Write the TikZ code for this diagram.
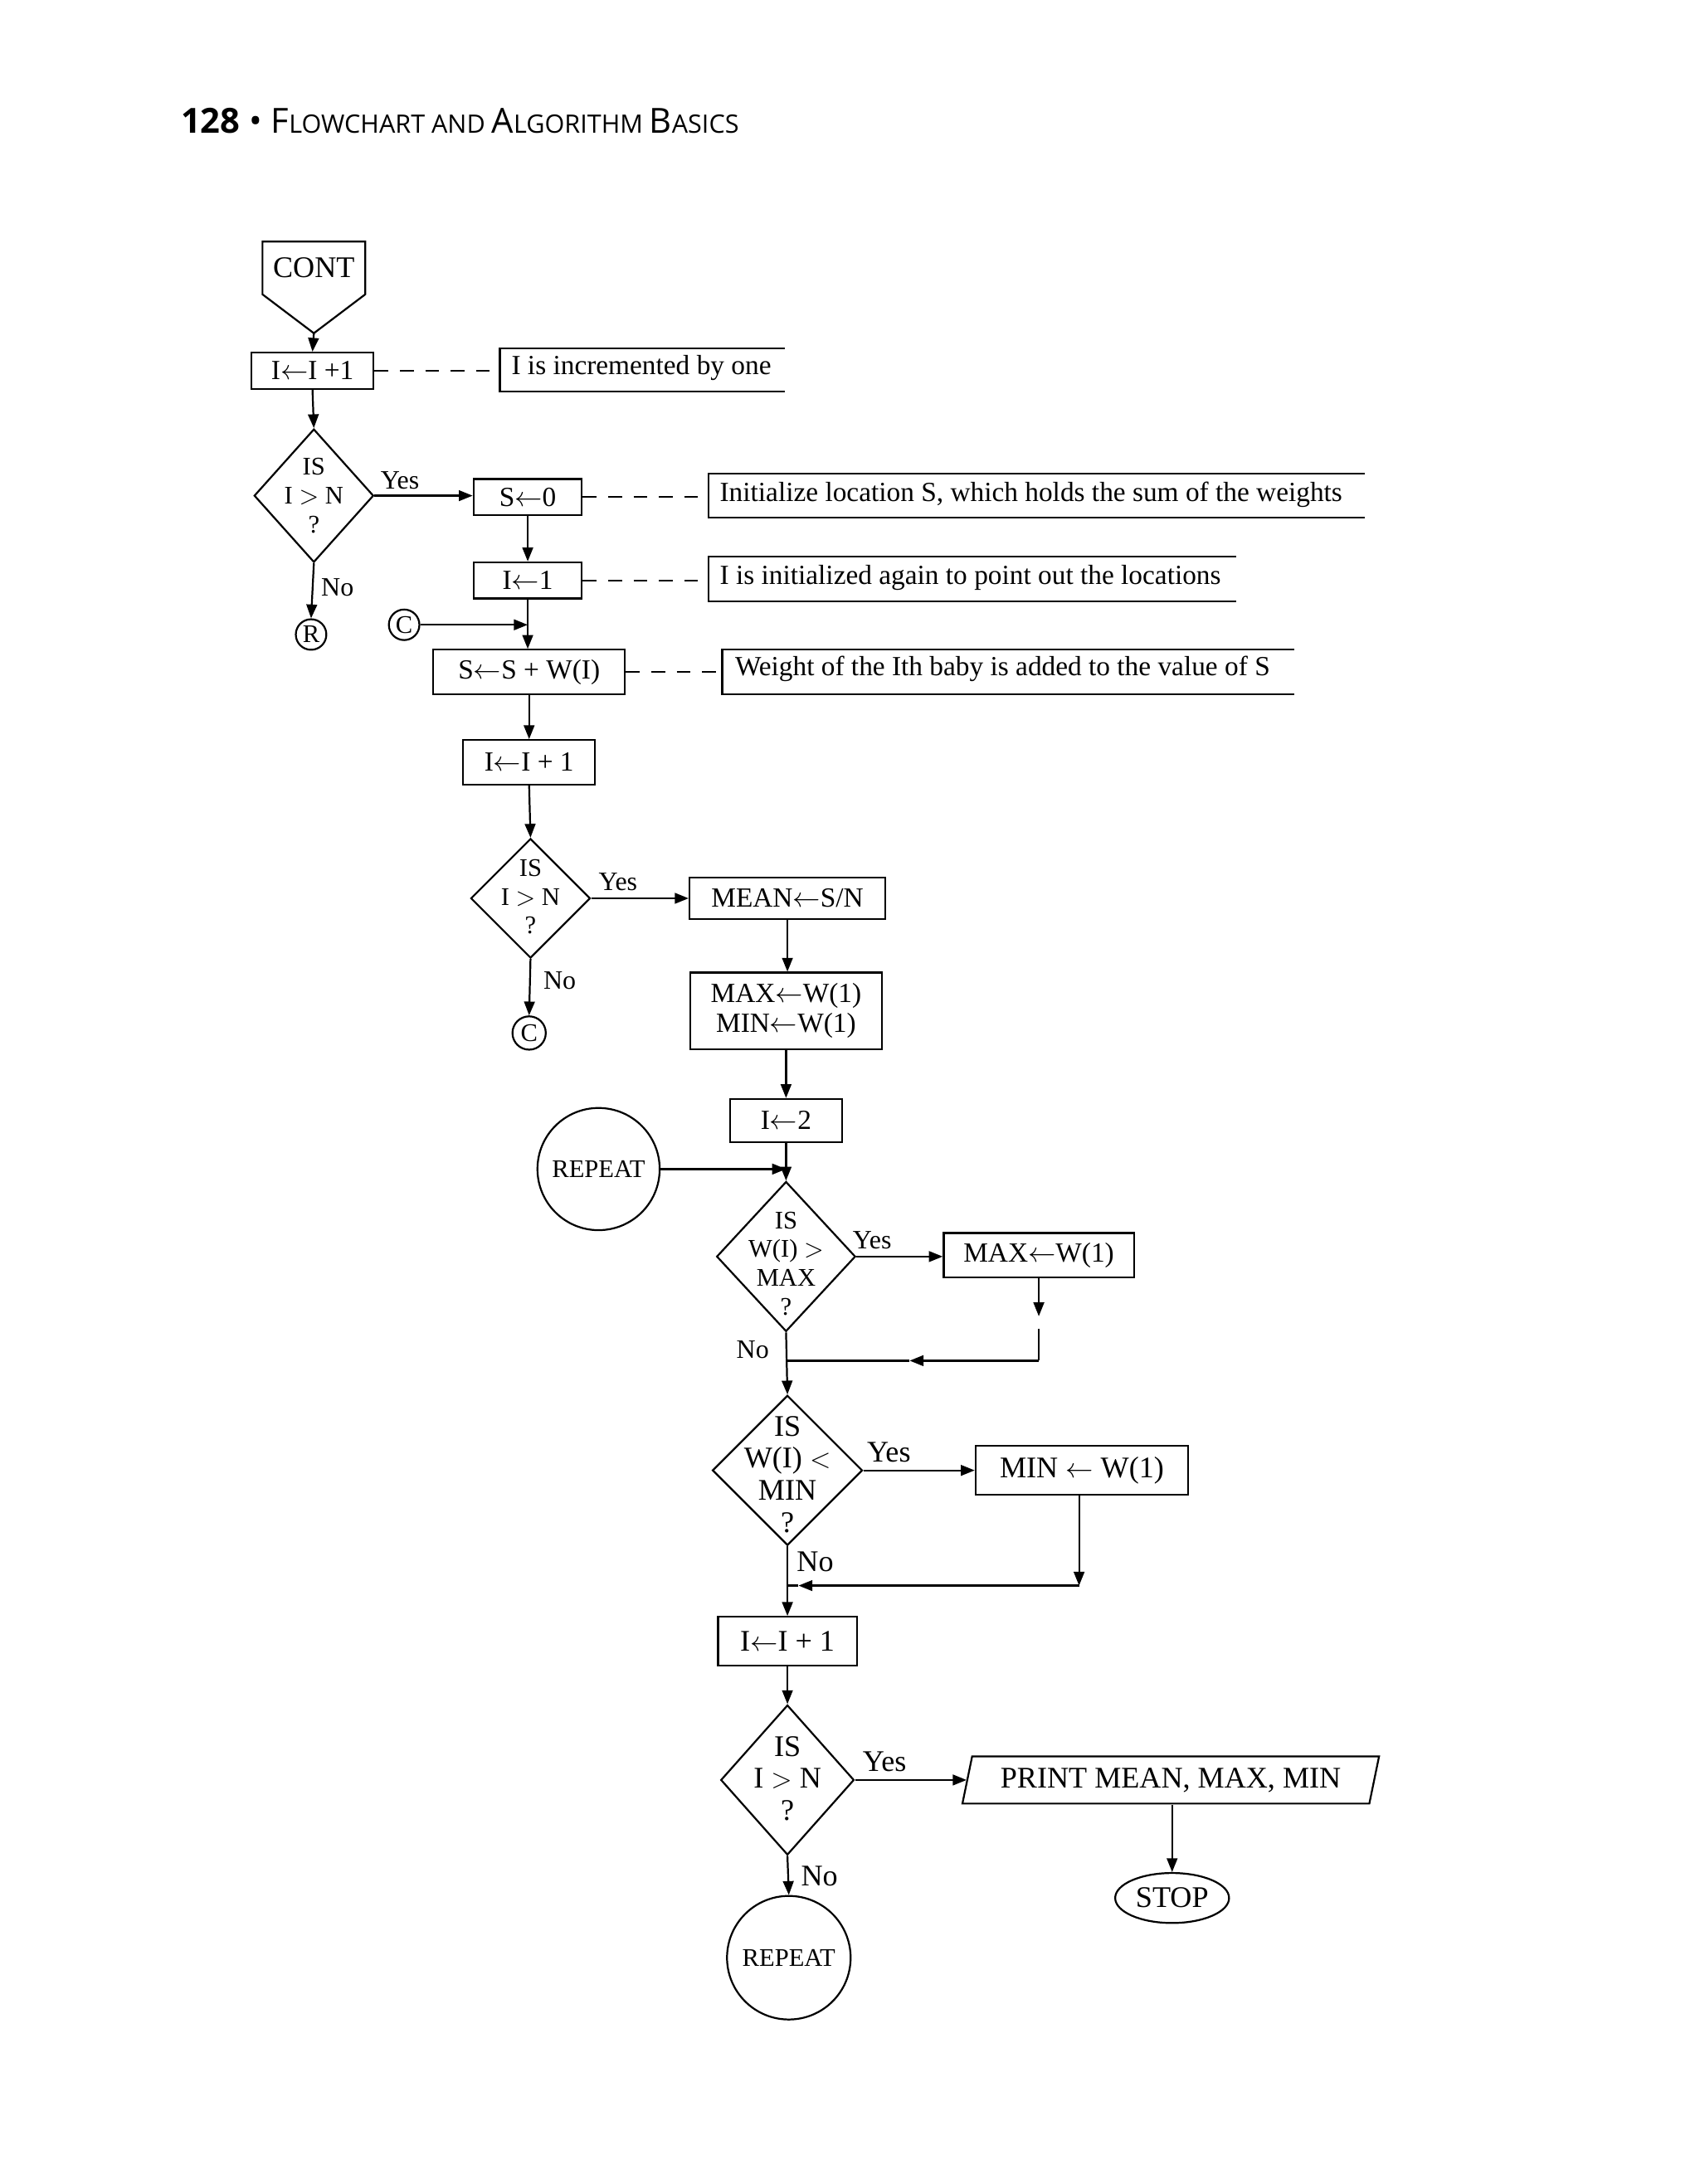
\documentclass[tikz,border=0pt]{standalone}
\usepackage{fontspec}
\setmainfont{Liberation Serif}
\newfontfamily\hdfont{Open Sans}
\usetikzlibrary{shapes.geometric,arrows.meta}
\begin{document}
\begin{tikzpicture}[x=0.6023pt,y=-0.6023pt,
  arr/.style={-{Triangle[length=6pt,width=4.6pt]},line width=0.8pt},
  ln/.style={line width=0.8pt},
  dsh/.style={line width=0.8pt,dash pattern=on 6pt off 5pt},
  bx/.style={draw,line width=0.8pt,inner sep=0pt,font=\fontsize{12}{13}\selectfont},
  dm/.style={draw,diamond,line width=0.8pt,inner sep=0pt},
  dt/.style={align=center,font=\fontsize{11}{12.5}\selectfont,inner sep=0pt},
  cmt/.style={anchor=west,font=\fontsize{12}{13}\selectfont,inner sep=0pt},
  lb/.style={font=\fontsize{11.5}{12}\selectfont,inner sep=0pt},
  cc/.style={draw,circle,line width=0.8pt,inner sep=0pt,font=\fontsize{11}{12}\selectfont}]
\fill[white] (0,0) rectangle (1224,1573);
\useasboundingbox (0,0) rectangle (1224,1573);
% header
\node[anchor=base west,inner sep=0pt] (hd) at (130,96) {\hdfont\fontsize{15}{16}\selectfont\bfseries 128 \mdseries\textbullet\ F{\fontsize{11}{12}\selectfont LOWCHART AND }A{\fontsize{11}{12}\selectfont LGORITHM }B{\fontsize{11}{12}\selectfont ASICS}};
% CONT
\draw[ln] (189,174) -- (263,174) -- (263,212) -- (226,240) -- (189,212) -- cycle;
\node[font=\fontsize{13}{14}\selectfont] (cont) at (226,193) {CONT};
\coordinate (contb) at (226,240);
\node[bx,minimum width=88*0.6023pt,minimum height=26*0.6023pt] (i1) at (225,267) {I$\leftarrow$I +1};
\draw[arr] (contb) -- (i1.north);
\draw[ln] (565,251) -- (360,251) -- (360,282) -- (565,282);
\coordinate (c1) at (360,267);
\draw[dsh] (i1.east) -- (c1);
\node[cmt] (t1) at (368,265) {I is incremented by one};
% diamond 1
\node[dm,minimum width=86*0.6023pt,minimum height=96*0.6023pt] (d1) at (226,357) {};
\node[dt] (d1t) at (226,357) {IS\\I $>$ N\\?};
\draw[arr] (i1.south) -- (d1.north);
\node[bx,minimum width=78*0.6023pt,minimum height=26*0.6023pt] (s0) at (380,358) {S$\leftarrow$0};
\draw[arr] (d1.east) -- (d1.east -| s0.west);
\node[lb] (y1) at (288,346) {Yes};
\draw[ln] (983,341) -- (510,341) -- (510,373) -- (983,373);
\coordinate (c2) at (510,358);
\draw[dsh] (s0.east) -- (c2);
\node[cmt] (t2) at (518,356) {Initialize location S, which holds the sum of the weights};
\node[cc,minimum size=22*0.6023pt] (R) at (224,457) {R};
\draw[arr] (d1.south) -- (R.north);
\node[lb] (n1) at (243,423) {No};
\node[bx,minimum width=78*0.6023pt,minimum height=26*0.6023pt] (i0) at (380,418) {I$\leftarrow$1};
\draw[arr] (s0.south) -- (i0.north);
\draw[ln] (890,401) -- (510,401) -- (510,433) -- (890,433);
\coordinate (c3) at (510,418);
\draw[dsh] (i0.east) -- (c3);
\node[cmt] (t3) at (518,416) {I is initialized again to point out the locations};
\node[bx,minimum width=138*0.6023pt,minimum height=32*0.6023pt] (ss) at (381,484) {S$\leftarrow$S + W(I)};
\draw[arr] (i0.south) -- (i0.south |- ss.north);
\node[cc,minimum size=22*0.6023pt] (C1) at (291,450) {C};
\coordinate (cj) at (380,450);
\draw[arr] (C1.east) -- (cj);
\draw[ln] (932,468) -- (520,468) -- (520,500) -- (932,500);
\coordinate (c4) at (520,484);
\draw[dsh] (ss.east) -- (c4);
\node[cmt] (t4) at (529,482) {Weight of the Ith baby is added to the value of S};
\node[bx,minimum width=95*0.6023pt,minimum height=32*0.6023pt] (i2) at (381,549) {I$\leftarrow$I + 1};
\draw[arr] (ss.south) -- (i2.north);
% diamond 2
\node[dm,minimum width=86*0.6023pt,minimum height=86*0.6023pt] (d2) at (382,647) {};
\node[dt] (d2t) at (382,646) {IS\\I $>$ N\\?};
\draw[arr] (i2.south) -- (d2.north);
\node[bx,minimum width=141*0.6023pt,minimum height=30*0.6023pt] (mean) at (567,647) {MEAN$\leftarrow$S/N};
\draw[arr] (d2.east) -- (mean.west);
\node[lb] (y2) at (445,635) {Yes};
\node[cc,minimum size=24*0.6023pt] (C2) at (381,744) {C};
\draw[arr] (d2.south) -- (C2.north);
\node[lb] (n2) at (403,706) {No};
\node[bx,align=center,minimum width=138*0.6023pt,minimum height=55*0.6023pt] (mm) at (566,728) {MAX$\leftarrow$W(1)\\MIN$\leftarrow$W(1)};
\draw[arr] (mean.south) -- (mean.south |- mm.north);
\node[bx,minimum width=81*0.6023pt,minimum height=31*0.6023pt] (i3) at (566,807) {I$\leftarrow$2};
\draw[arr] (mm.south) -- (i3.north);
\node[cc,minimum size=88*0.6023pt] (rep1) at (431,842) {REPEAT};
\coordinate (rj) at (566,842);
\draw[arr] (rep1.east) -- (rj);
% diamond 3
\node[dm,minimum width=100*0.6023pt,minimum height=108*0.6023pt] (d3) at (566,905) {};
\node[dt] (d3t) at (566,910) {IS\\W(I) $>$\\MAX\\?};
\draw[arr] (i3.south) -- (d3.north);
\node[bx,minimum width=137*0.6023pt,minimum height=32*0.6023pt] (mx) at (748,904) {MAX$\leftarrow$W(1)};
\draw[arr] (d3.east) -- (d3.east -| mx.west);
\node[lb] (y3) at (628,893) {Yes};
\coordinate (mxa) at (748,948);
\draw[arr] (mx.south) -- (mxa);
\coordinate (mxb) at (748,957);
\coordinate (mxc) at (748,980);
\coordinate (mxd) at (655,980);
\coordinate (mxe) at (566,980);
\draw[ln] (mxb) -- (mxc);
\draw[arr] (mxc) -- (mxd);
\draw[ln] (mxd) -- (mxe);
\node[lb] (n3) at (542,972) {No};
% diamond 4
\node[dm,minimum width=108*0.6023pt,minimum height=108*0.6023pt] (d4) at (567,1059) {};
\node[dt,font=\fontsize{13}{14}\selectfont] (d4t) at (567,1062) {IS\\W(I) $<$\\MIN\\?};
\draw[arr] (d3.south) -- (d4.north);
\node[bx,font=\fontsize{13}{14}\selectfont,minimum width=153*0.6023pt,minimum height=35*0.6023pt] (mn) at (779,1059) {MIN $\leftarrow$ W(1)};
\draw[arr] (d4.east) -- (mn.west);
\node[lb,font=\fontsize{13}{14}\selectfont] (y4) at (640,1046) {Yes};
\coordinate (mna) at (777,1142);
\coordinate (mnb) at (575,1142);
\coordinate (mnc) at (567,1142);
\draw[arr] (mn.south -| mna) -- (mna);
\draw[arr] (mna) -- (mnb);
\draw[ln] (mnb) -- (mnc);
\node[lb,font=\fontsize{13}{14}\selectfont] (n4) at (587,1125) {No};
\node[bx,font=\fontsize{13}{14}\selectfont,minimum width=100*0.6023pt,minimum height=35*0.6023pt] (i4) at (567,1182) {I$\leftarrow$I + 1};
\draw[arr] (d4.south) -- (i4.north);
% diamond 5
\node[dm,minimum width=96*0.6023pt,minimum height=108*0.6023pt] (d5) at (567,1282) {};
\node[dt,font=\fontsize{13}{14}\selectfont] (d5t) at (567,1281) {IS\\I $>$ N\\?};
\draw[arr] (i4.south) -- (d5.north);
\draw[ln] (700,1265) -- (993,1265) -- (986,1299) -- (693,1299) -- cycle;
\node[font=\fontsize{13}{14}\selectfont,inner sep=0pt] (pr) at (843,1282) {PRINT MEAN, MAX, MIN};
\coordinate (prw) at (696,1282);
\draw[arr] (d5.east) -- (prw);
\node[lb,font=\fontsize{13}{14}\selectfont] (y5) at (637,1269) {Yes};
\node[draw,ellipse,line width=0.8pt,inner sep=0pt,minimum width=82*0.6023pt,minimum height=36*0.6023pt,font=\fontsize{13}{14}\selectfont] (stop) at (844,1367) {STOP};
\coordinate (prs) at (844,1300);
\draw[arr] (prs) -- (stop.north);
\node[cc,minimum size=89*0.6023pt] (rep2) at (568,1410) {REPEAT};
\draw[arr] (d5.south) -- (rep2.north);
\node[lb,font=\fontsize{13}{14}\selectfont] (n5) at (590,1351) {No};
\end{tikzpicture}
\end{document}
